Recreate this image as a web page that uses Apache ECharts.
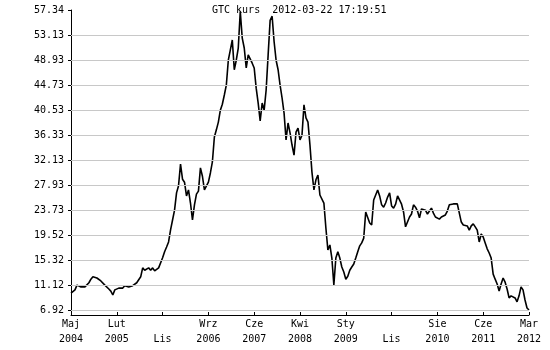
<!DOCTYPE html>
<html>
<head>
<meta charset="utf-8">
<script src="https://cdn.jsdelivr.net/npm/echarts@6/dist/echarts.min.js"></script>
<style>
html,body{margin:0;padding:0;background:#fff;}
#chart{width:550px;height:350px;}
</style>
</head>
<body>
<div id="chart"></div>
<script>
// Chart title
var titleText = 'GTC kurs  2012-03-22 17:19:51';

// X axis tick labels (one per tick, evenly spaced in trading days)
var xTickLabels = ['Maj\n2004', 'Lut\n2005', '\nLis', 'Wrz\n2006', 'Cze\n2007', 'Kwi\n2008', 'Sty\n2009', '\nLis', 'Sie\n2010', 'Cze\n2011', 'Mar\n2012'];
var xStep = 23; // samples between ticks

// Y axis tick values / labels
var yTicks = [6.92, 11.12, 15.32, 19.52, 23.73, 27.93, 32.13, 36.33, 40.53, 44.73, 48.93, 53.13, 57.34];
var yMin = 6.08;
var yMax = 57.34;

// Closing prices (sampled), from 2004-05 to 2012-03-22
var prices = [
  9.74, 9.6, 10.3, 11.1, 11.3, 10.8, 10.6, 10.8, 11.0, 11.5,
  12.1, 12.5, 12.8, 12.3, 12.0, 11.8, 11.5, 11.1, 11.0, 10.45,
  10.1, 9.44, 10.3, 10.6, 10.6, 10.8, 10.6, 11.0, 11.1, 10.8,
  11.1, 11.0, 11.3, 11.5, 11.8, 12.5, 14.0, 13.6, 13.5, 14.0,
  13.6, 14.0, 13.5, 13.8, 14.0, 14.3, 15.7, 16.7, 17.5, 18.35,
  20.4, 22.05, 23.7, 26.6, 27.8, 31.46, 28.9, 28.4, 26.1, 27.1,
  24.9, 22.05, 24.6, 26.4, 26.9, 30.8, 29.4, 27.1, 27.4, 28.4,
  29.95, 31.8, 36.0, 37.2, 38.5, 40.5, 41.5, 43.05, 44.7, 48.9,
  50.6, 52.3, 47.3, 48.9, 50.95, 57.1, 52.6, 50.95, 47.6, 49.8,
  49.8, 48.4, 47.6, 44.2, 41.7, 38.7, 41.7, 40.5, 43.9, 49.8,
  55.6, 56.3, 52.0, 48.9, 47.3, 44.7, 42.55, 40.0, 35.5, 38.35,
  36.7, 34.65, 32.95, 36.8, 37.5, 35.5, 36.3, 41.4, 39.2, 38.5,
  34.65, 30.1, 27.1, 28.8, 29.6, 26.25, 26.25, 24.9, 20.7, 17.0,
  17.85, 15.65, 11.12, 15.65, 16.7, 15.65, 14.15, 13.3, 12.1, 12.6,
  13.6, 14.15, 14.65, 15.65, 16.7, 17.7, 18.2, 19.0, 23.4, 23.2,
  21.55, 21.2, 25.4, 25.1, 27.1, 26.1, 24.6, 24.2, 24.9, 25.9,
  26.6, 24.4, 24.05, 24.7, 26.1, 26.1, 24.7, 23.4, 20.9, 20.9,
  22.55, 23.05, 24.6, 24.2, 23.55, 22.4, 23.9, 23.9, 23.7, 23.05,
  23.2, 24.05, 23.2, 22.55, 22.55, 22.2, 22.55, 22.55, 22.9, 23.55,
  24.6, 24.9, 24.75, 24.9, 24.75, 24.6, 21.7, 21.2, 21.4, 21.05,
  20.35, 21.05, 21.4, 20.9, 20.35, 18.35, 19.7, 19.2, 18.2, 17.2,
  16.5, 15.65, 12.95, 12.1, 11.3, 10.1, 11.3, 12.3, 11.6, 10.45,
  8.95, 9.3, 9.45, 8.95, 8.3, 9.3, 10.8, 10.3, 8.6, 7.25,
  6.92
];

var FONT = 'DejaVu Sans Mono';
var chart = echarts.init(document.getElementById('chart'), null, {renderer: 'canvas'});

var seriesData = prices.map(function (v, i) { return [i, v]; });
var gridLines = yTicks.slice(0, yTicks.length - 1).map(function (v) { return {yAxis: v}; });

chart.setOption({
  animation: false,
  backgroundColor: '#ffffff',
  title: {
    text: titleText,
    left: 212,
    top: 5,
    padding: 0,
    textStyle: {fontFamily: FONT, fontSize: 10, fontWeight: 'normal', color: '#000'}
  },
  grid: {left: 71, right: 21, top: 10, bottom: 35, containLabel: false},
  xAxis: {
    type: 'value',
    min: 0,
    max: (xTickLabels.length - 1) * xStep,
    interval: xStep,
    axisLine: {show: true, lineStyle: {color: '#000', width: 1}},
    axisTick: {show: true, inside: true, length: 3, lineStyle: {color: '#000'}},
    axisLabel: {
      show: true,
      showMinLabel: true,
      showMaxLabel: true,
      margin: 2,
      fontFamily: FONT,
      fontSize: 10,
      lineHeight: 15,
      color: '#000',
      formatter: function (v) { return xTickLabels[Math.round(v / xStep)] || ''; }
    },
    splitLine: {show: false}
  },
  yAxis: {
    type: 'value',
    min: yMin,
    max: yMax,
    axisLine: {show: true, lineStyle: {color: '#000', width: 1}},
    axisTick: {show: true, length: 3, customValues: yTicks, lineStyle: {color: '#000'}},
    axisLabel: {
      show: true,
      customValues: yTicks,
      margin: 7,
      fontFamily: FONT,
      fontSize: 10,
      color: '#000',
      formatter: function (v) { return v.toFixed(2); }
    },
    splitLine: {show: false}
  },
  series: [
    {
      type: 'line',
      data: [],
      z: 1,
      silent: true,
      markLine: {
        silent: true,
        symbol: ['none', 'none'],
        label: {show: false},
        lineStyle: {color: '#c8c8c8', type: 'solid', width: 1},
        data: gridLines
      }
    },
    {
      type: 'line',
      data: seriesData,
      z: 3,
      showSymbol: false,
      symbol: 'none',
      lineStyle: {color: '#000', width: 1.6},
      silent: true
    }
  ]
});
</script>
</body>
</html>
